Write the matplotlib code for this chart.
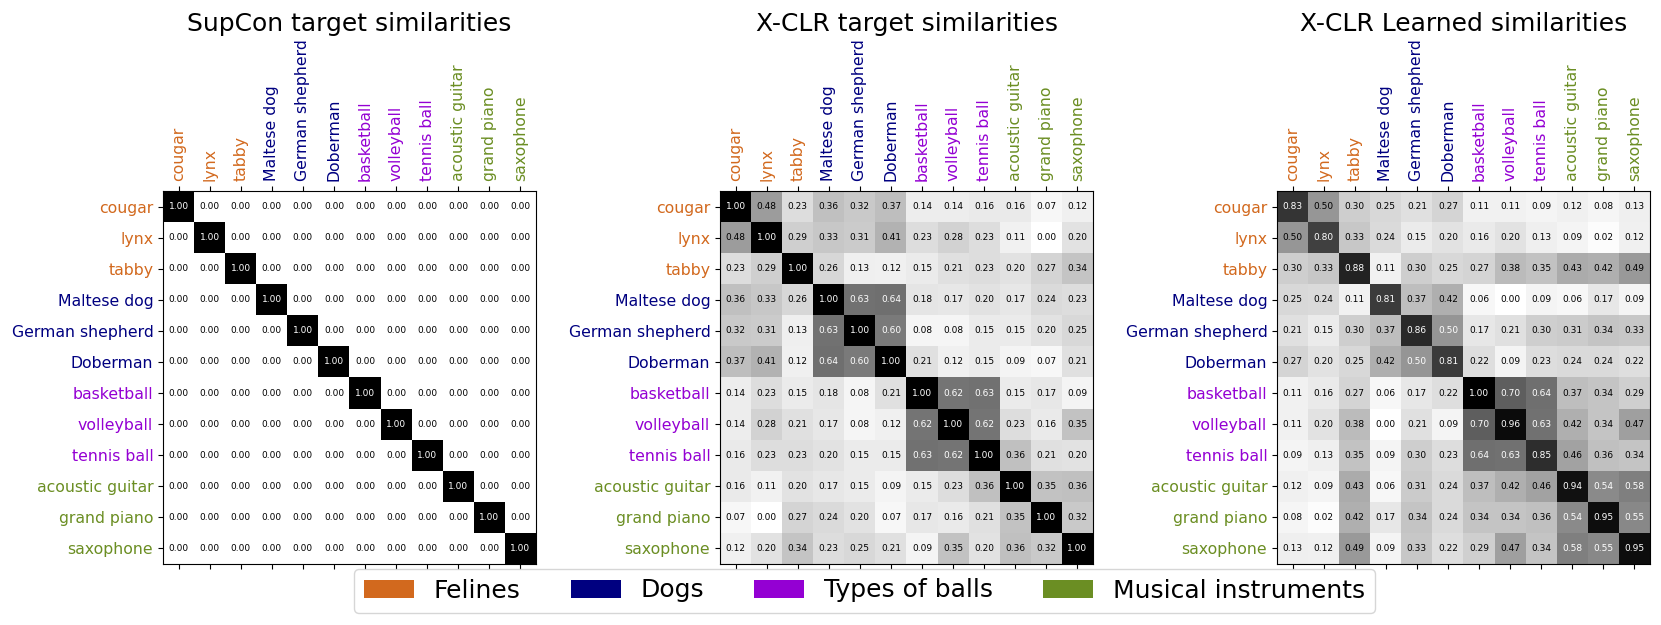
import numpy as np
import matplotlib
matplotlib.use("Agg")
import matplotlib.pyplot as plt
from matplotlib.patches import Patch

labels = ["cougar", "lynx", "tabby", "Maltese dog", "German shepherd", "Doberman",
          "basketball", "volleyball", "tennis ball", "acoustic guitar", "grand piano", "saxophone"]
label_groups = [0, 0, 0, 1, 1, 1, 2, 2, 2, 3, 3, 3]
group_names = ["Felines", "Dogs", "Types of balls", "Musical instruments"]
group_colors = ["chocolate", "navy", "darkviolet", "olivedrab"]

supcon = np.eye(12)

xclr_target = [
    [1.00, 0.48, 0.23, 0.36, 0.32, 0.37, 0.14, 0.14, 0.16, 0.16, 0.07, 0.12],
    [0.48, 1.00, 0.29, 0.33, 0.31, 0.41, 0.23, 0.28, 0.23, 0.11, 0.00, 0.20],
    [0.23, 0.29, 1.00, 0.26, 0.13, 0.12, 0.15, 0.21, 0.23, 0.20, 0.27, 0.34],
    [0.36, 0.33, 0.26, 1.00, 0.63, 0.64, 0.18, 0.17, 0.20, 0.17, 0.24, 0.23],
    [0.32, 0.31, 0.13, 0.63, 1.00, 0.60, 0.08, 0.08, 0.15, 0.15, 0.20, 0.25],
    [0.37, 0.41, 0.12, 0.64, 0.60, 1.00, 0.21, 0.12, 0.15, 0.09, 0.07, 0.21],
    [0.14, 0.23, 0.15, 0.18, 0.08, 0.21, 1.00, 0.62, 0.63, 0.15, 0.17, 0.09],
    [0.14, 0.28, 0.21, 0.17, 0.08, 0.12, 0.62, 1.00, 0.62, 0.23, 0.16, 0.35],
    [0.16, 0.23, 0.23, 0.20, 0.15, 0.15, 0.63, 0.62, 1.00, 0.36, 0.21, 0.20],
    [0.16, 0.11, 0.20, 0.17, 0.15, 0.09, 0.15, 0.23, 0.36, 1.00, 0.35, 0.36],
    [0.07, 0.00, 0.27, 0.24, 0.20, 0.07, 0.17, 0.16, 0.21, 0.35, 1.00, 0.32],
    [0.12, 0.20, 0.34, 0.23, 0.25, 0.21, 0.09, 0.35, 0.20, 0.36, 0.32, 1.00],
]

xclr_learned = [
    [0.83, 0.497, 0.30, 0.25, 0.21, 0.27, 0.11, 0.11, 0.09, 0.12, 0.08, 0.13],
    [0.497, 0.80, 0.33, 0.24, 0.15, 0.20, 0.16, 0.20, 0.13, 0.09, 0.02, 0.12],
    [0.30, 0.33, 0.88, 0.11, 0.30, 0.25, 0.27, 0.38, 0.35, 0.43, 0.42, 0.49],
    [0.25, 0.24, 0.11, 0.81, 0.37, 0.42, 0.06, 0.00, 0.09, 0.06, 0.17, 0.09],
    [0.21, 0.15, 0.30, 0.37, 0.86, 0.503, 0.17, 0.21, 0.30, 0.31, 0.34, 0.33],
    [0.27, 0.20, 0.25, 0.42, 0.503, 0.81, 0.22, 0.09, 0.23, 0.24, 0.24, 0.22],
    [0.11, 0.16, 0.27, 0.06, 0.17, 0.22, 1.00, 0.70, 0.64, 0.37, 0.34, 0.29],
    [0.11, 0.20, 0.38, 0.00, 0.21, 0.09, 0.70, 0.96, 0.63, 0.42, 0.34, 0.47],
    [0.09, 0.13, 0.35, 0.09, 0.30, 0.23, 0.64, 0.63, 0.85, 0.46, 0.36, 0.34],
    [0.12, 0.09, 0.43, 0.06, 0.31, 0.24, 0.37, 0.42, 0.46, 0.94, 0.54, 0.58],
    [0.08, 0.02, 0.42, 0.17, 0.34, 0.24, 0.34, 0.34, 0.36, 0.54, 0.95, 0.55],
    [0.13, 0.12, 0.49, 0.09, 0.33, 0.22, 0.29, 0.47, 0.34, 0.58, 0.55, 0.95],
]

titles = ["SupCon target similarities", "X-CLR target similarities", "X-CLR Learned similarities"]
matrices = [supcon, np.array(xclr_target), np.array(xclr_learned)]

fig = plt.figure(figsize=(16.61, 6.25), dpi=100)
lefts = [163 / 1661, 720 / 1661, 1277 / 1661]
w = 373 / 1661
h = 373 / 625
bottom = 1 - 564 / 625

n = len(labels)
for left, title, M in zip(lefts, titles, matrices):
    ax = fig.add_axes([left, bottom, w, h])
    ax.matshow(M, cmap="Greys", vmin=0, vmax=1, aspect="auto")
    ax.set_xticks(range(n))
    ax.set_yticks(range(n))
    ax.set_xticklabels(labels, rotation=90, fontsize=11.3)
    ax.set_yticklabels(labels, fontsize=11.3)
    ax.tick_params(top=True, bottom=True, labeltop=True, labelbottom=False)
    for lab, g in zip(ax.get_xticklabels(), label_groups):
        lab.set_color(group_colors[g])
    for lab, g in zip(ax.get_yticklabels(), label_groups):
        lab.set_color(group_colors[g])
    for i in range(n):
        for j in range(n):
            v = M[i, j]
            ax.text(j, i, f"{v:.2f}", ha="center", va="center", fontsize=6.5,
                    color="white" if v > 0.5 else "black")
    ax.set_title(title, fontsize=18)

handles = [Patch(facecolor=c, label=nm) for c, nm in zip(group_colors, group_names)]
fig.legend(handles=handles, loc="lower center", bbox_to_anchor=(0.5205, 0.0),
           ncol=4, fontsize=18, handlelength=2.0, handleheight=0.75)

fig.savefig("out.png", dpi=100)
